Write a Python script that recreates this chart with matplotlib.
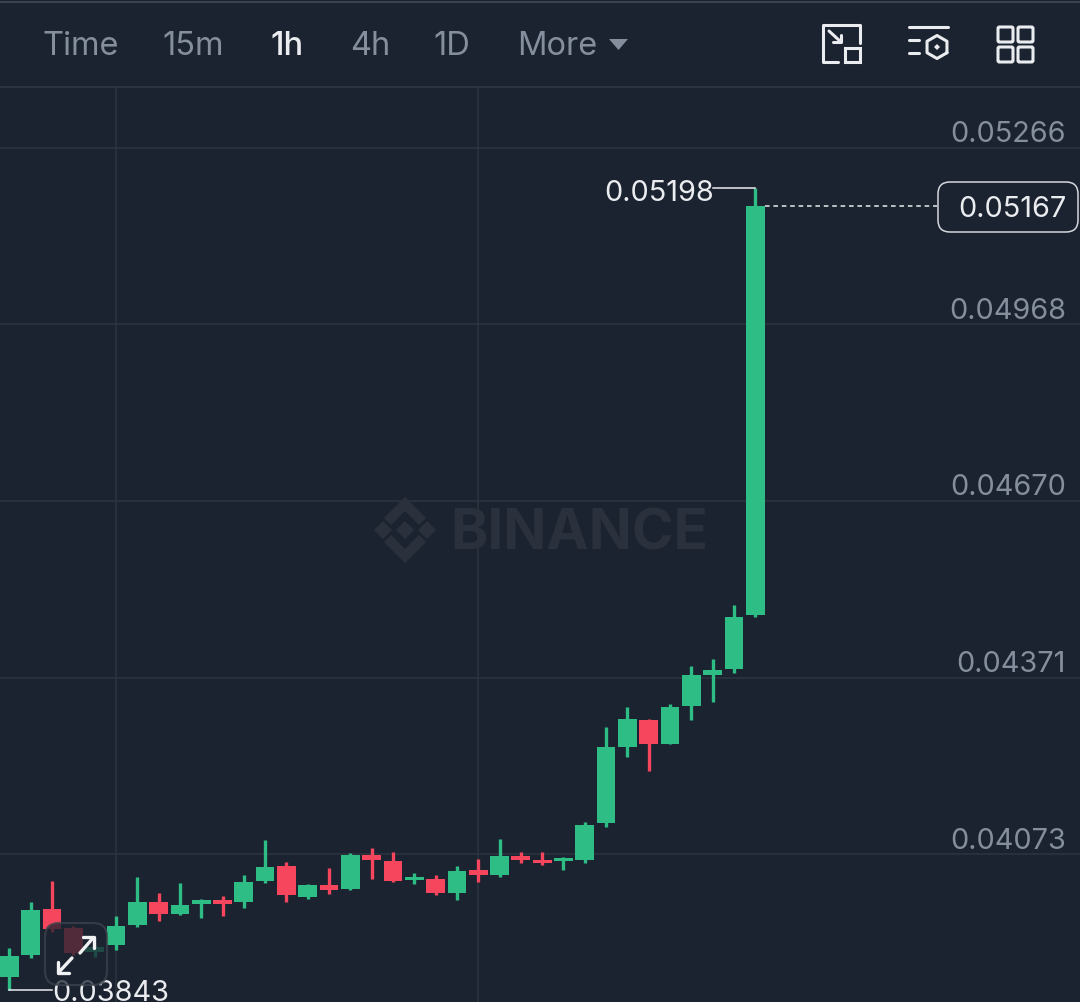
import numpy as np
import matplotlib
matplotlib.use("Agg")
import matplotlib.pyplot as plt
from matplotlib.patches import FancyBboxPatch, Polygon, Rectangle

plt.rcParams['font.family'] = ['Inter', 'DejaVu Sans']

# candles, 1h
opens = [0.03865, 0.03902, 0.03980, 0.03948, 0.03907, 0.03919, 0.03953, 0.03992, 0.03972,
         0.03989, 0.03995, 0.03992, 0.04027, 0.04053, 0.04000, 0.04021, 0.04014, 0.04071,
         0.04061, 0.04029, 0.04031, 0.04007, 0.04046, 0.04037, 0.04070, 0.04063, 0.04061,
         0.04063, 0.04125, 0.04254, 0.04299, 0.04259, 0.04323, 0.04376, 0.04386, 0.04477]
highs = [0.03914, 0.03992, 0.04027, 0.03951, 0.03919, 0.03968, 0.04034, 0.04007, 0.04024,
         0.03997, 0.04002, 0.04037, 0.04097, 0.04059, 0.04022, 0.04049, 0.04075, 0.04083,
         0.04076, 0.04041, 0.04037, 0.04053, 0.04065, 0.04098, 0.04076, 0.04076, 0.04068,
         0.04127, 0.04288, 0.04321, 0.04301, 0.04327, 0.04391, 0.04403, 0.04494, 0.05198]
lows = [0.03843, 0.03897, 0.03941, 0.03902, 0.03899, 0.03911, 0.03950, 0.03960, 0.03970,
        0.03965, 0.03968, 0.03982, 0.04024, 0.03992, 0.03997, 0.04005, 0.04012, 0.04031,
        0.04026, 0.04022, 0.04004, 0.03995, 0.04026, 0.04034, 0.04058, 0.04054, 0.04046,
        0.04058, 0.04119, 0.04237, 0.04213, 0.04258, 0.04299, 0.04330, 0.04379, 0.04474]
closes = [0.03901, 0.03978, 0.03946, 0.03906, 0.03916, 0.03951, 0.03992, 0.03972, 0.03987,
          0.03995, 0.03989, 0.04026, 0.04051, 0.04004, 0.04021, 0.04012, 0.04071, 0.04063,
          0.04027, 0.04034, 0.04007, 0.04044, 0.04037, 0.04070, 0.04063, 0.04058, 0.04066,
          0.04122, 0.04254, 0.04301, 0.04259, 0.04321, 0.04376, 0.04384, 0.04474, 0.05167]

price_ticks = [0.05266, 0.04968, 0.04670, 0.04371, 0.04073]
time_grid = [5, 22]
menu_labels = ['Time', '15m', '1h', '4h', '1D', 'More']
last_price = 0.05167

BG = '#1a232f'
GRID = '#2c343f'
GREEN = '#2ebd85'
RED = '#f6465d'
GRAY = '#848e9c'
WHITE = '#eaecef'
PRICE_FS = 20.8

W, H = 1080, 1002
fig = plt.figure(figsize=(W / 100, H / 100), dpi=100, facecolor=BG)

# price area starts under the toolbar
ax = fig.add_axes([0, 0, 1, (H - 88) / H], facecolor=BG)
step = 21.31
ax.set_xlim(-9.4 / step, (W - 9.4) / step)
ax.set_ylim(0.03823, 0.05367)
for s in ax.spines.values():
    s.set_visible(False)
ax.set_xticks(time_grid)
ax.set_yticks(price_ticks)
ax.tick_params(length=0, labelbottom=False, labelleft=False)
ax.grid(True, color=GRID, lw=1.1)
ax.set_axisbelow(True)

o = np.array(opens)
c = np.array(closes)
x = np.arange(len(o))
colors = [GREEN if b >= a else RED for a, b in zip(o, c)]

ax.vlines(x, lows, highs, color=colors, lw=2.4, zorder=3)
ax.bar(x, np.abs(c - o), bottom=np.minimum(o, c), width=0.88, color=colors, lw=0, zorder=4)

# price labels sit above their grid line
for p in price_ticks:
    ax.annotate(f'{p:.5f}', xy=(1, p), xycoords=('axes fraction', 'data'), xytext=(-14, 13),
                textcoords='offset pixels', ha='right', va='center', color=GRAY, fontsize=PRICE_FS)

# high / low markers
hi_i = int(np.argmax(highs))
lo_i = int(np.argmin(lows))
ax.plot([hi_i - 2, hi_i], [highs[hi_i]] * 2, color=WHITE, lw=1.1, zorder=5)
ax.annotate(f'{highs[hi_i]:.5f}', xy=(hi_i - 2, highs[hi_i]), xytext=(1, -5), textcoords='offset pixels',
            ha='right', va='center', color=WHITE, fontsize=PRICE_FS, zorder=6)
ax.plot([lo_i, lo_i + 2], [lows[lo_i]] * 2, color=WHITE, lw=1.1, zorder=5)
ax.annotate(f'{lows[lo_i]:.5f}', xy=(lo_i + 2, lows[lo_i]), xytext=(0, -3), textcoords='offset pixels',
            ha='left', va='center', color=WHITE, fontsize=PRICE_FS, zorder=6)

# last price
ax.plot([35.45, 43.55], [last_price] * 2, color=WHITE, lw=1.1, dashes=(3, 2.5), zorder=5)

# everything else in pixel coordinates
ov = fig.add_axes([0, 0, 1, 1], facecolor='none')
ov.set_xlim(0, W)
ov.set_ylim(H, 0)
ov.axis('off')

ov.plot([0, W], [1.5, 1.5], color='#39424e', lw=1.5)
ov.plot([0, W], [87, 87], color='#2c343f', lw=1.5)

ov.add_patch(FancyBboxPatch((938, 182), 140, 50, boxstyle='round,pad=0,rounding_size=12',
                            fc=BG, ec='#d5d8dc', lw=1.1, zorder=6))
ov.text(1066, 209, f'{last_price:.5f}', color=WHITE, fontsize=PRICE_FS, ha='right', va='center', zorder=7)

# toolbar
menu_x = [43, 162, 271, 350, 433, 517]
for lab, mx in zip(menu_labels, menu_x):
    on = lab == '1h'
    ov.text(mx, 46, lab, color=WHITE if on else GRAY, fontsize=23.5, ha='left', va='center',
            fontweight='medium' if on else 'normal')
ov.add_patch(Polygon([(609, 39), (628, 39), (618.5, 50)], fc=GRAY, ec='none'))

ic = dict(color=WHITE, lw=2.2, solid_capstyle='round', solid_joinstyle='round')
ov.plot([838, 823, 823, 860, 860], [62, 62, 25, 25, 43], **ic)
ov.add_patch(Rectangle((845, 48), 15, 14, fc='none', ec=WHITE, lw=2.2))
ov.plot([829, 841], [31, 42], **ic)
ov.plot([833, 841, 841], [42, 42, 35], **ic)

ov.plot([909, 948], [27, 27], **ic)
ov.plot([909, 919], [40, 40], **ic)
ov.plot([909, 919], [53, 53], **ic)
ang = np.deg2rad(np.arange(30, 391, 60))
ov.plot(937 + 11.5 * np.cos(ang), 47 + 11.5 * np.sin(ang), **ic)
ov.add_patch(Polygon([(937, 44), (940, 47), (937, 50), (934, 47)], fc=WHITE, ec='none'))

for sx in (998, 1018):
    for sy in (27, 47):
        ov.add_patch(FancyBboxPatch((sx, sy), 15, 15, boxstyle='round,pad=0,rounding_size=1.5',
                                    fc='none', ec=WHITE, lw=2.2))

# watermark
WM = '#2a313c'
cx, cy = 405, 530
for dx, dy in [(-22, 0), (0, 0), (22, 0)]:
    r = 9
    ov.add_patch(Polygon([(cx + dx, cy + dy - r), (cx + dx + r, cy + dy), (cx + dx, cy + dy + r),
                          (cx + dx - r, cy + dy)], fc=WM, ec='none', zorder=2))
ov.add_patch(Polygon([(cx, cy - 33), (cx + 21, cy - 12), (cx + 14, cy - 5), (cx, cy - 19),
                      (cx - 14, cy - 5), (cx - 21, cy - 12)], fc=WM, ec='none', zorder=2))
ov.add_patch(Polygon([(cx, cy + 33), (cx + 21, cy + 12), (cx + 14, cy + 5), (cx, cy + 19),
                      (cx - 14, cy + 5), (cx - 21, cy + 12)], fc=WM, ec='none', zorder=2))
ov.text(579.5, 534, 'BINANCE', color=WM, fontsize=40.7, fontweight='bold', ha='center', va='center', zorder=2)

# fullscreen button over the candles
ov.add_patch(FancyBboxPatch((45, 923), 62, 62, boxstyle='round,pad=0,rounding_size=14',
                            fc=BG, ec='#3d444e', lw=1.6, alpha=0.75, zorder=8))
arrow = dict(color='#f0f1f3', lw=2.4, solid_capstyle='round', solid_joinstyle='round', zorder=9)
ov.plot([80, 93], [953, 938], **arrow)
ov.plot([83, 94, 94], [937, 937, 948], **arrow)
ov.plot([72, 59], [958, 972], **arrow)
ov.plot([58, 58, 69], [962, 973, 973], **arrow)

fig.savefig('out.png', dpi=100, facecolor=BG)
